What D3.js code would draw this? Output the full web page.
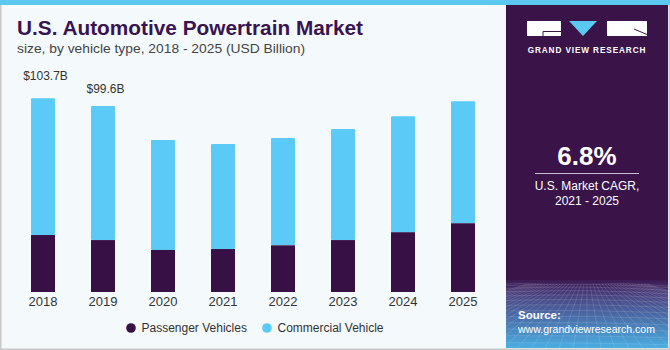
<!DOCTYPE html>
<html><head><meta charset="utf-8">
<script src="https://cdn.jsdelivr.net/npm/d3@7"></script>
<style>html,body{margin:0;padding:0;background:#f4f9fc;}svg{display:block;}</style>
</head><body>
<script>
const years = ["2018","2019","2020","2021","2022","2023","2024","2025"];
const passenger = [30.5, 27.8, 22.5, 23.0, 25.0, 27.8, 32.0, 36.8];
const commercial = [73.2, 71.8, 58.9, 56.2, 57.4, 59.5, 62.1, 65.3];
const totalLabels = ["$103.7B", "$99.6B"];
const seriesNames = ["Passenger Vehicles", "Commercial Vehicle"];

const W = 670, H = 350;
const purple = "#371046", blue = "#5bcaf6", panel = "#3a1449";
const svg = d3.select("body").append("svg").attr("width", W).attr("height", H);
const defs = svg.append("defs");

svg.append("rect").attr("width", W).attr("height", H).attr("fill", "#f4f9fc");
svg.append("rect").attr("width", W).attr("height", 5).attr("fill", "#5bc8ef");

// Right panel
svg.append("rect").attr("x", 506).attr("y", 5).attr("width", 162).attr("height", 343).attr("fill", panel);
const grad = defs.append("linearGradient").attr("id", "g1").attr("x1", 0).attr("y1", 0).attr("x2", 0).attr("y2", 1);
grad.append("stop").attr("offset", "0%").attr("stop-color", "#3c1a52");
grad.append("stop").attr("offset", "25%").attr("stop-color", "#4a4584");
grad.append("stop").attr("offset", "100%").attr("stop-color", "#4aaee2");
svg.append("rect").attr("x", 506).attr("y", 280).attr("width", 162).attr("height", 68).attr("fill", "url(#g1)");
defs.append("clipPath").attr("id", "cp").append("rect").attr("x", 506).attr("y", 283).attr("width", 162).attr("height", 65);
const gridG = svg.append("g").attr("clip-path", "url(#cp)").attr("stroke", "#ffffff").attr("stroke-opacity", 0.18).attr("fill", "none").attr("stroke-width", 0.7);
for (let i = 0; i < 14; i++) {
  const yy = 284 + Math.pow(i, 1.45) * 1.6;
  gridG.append("path").attr("d", `M506,${yy} Q587,${yy - 4 + i * 0.3} 668,${yy + 2}`);
}
for (let i = -20; i <= 20; i++) {
  const xb = 587 + i * 14;
  gridG.append("path").attr("d", `M${587 + i * 3},284 Q${587 + i * 7},310 ${xb},348`);
}

// Logo
const logo = svg.append("g");
logo.append("rect").attr("x", 527).attr("y", 21).attr("width", 34).attr("height", 15).attr("fill", "#fff");
logo.append("path").attr("d", "M543,36 L543,31.5 L561,31.5").attr("stroke", panel).attr("stroke-width", 1).attr("fill", "none");
logo.append("path").attr("d", "M569,21 L597,21 L583,36 Z").attr("fill", "#5bc8ef");
logo.append("rect").attr("x", 607).attr("y", 21).attr("width", 40).attr("height", 15).attr("fill", "#fff");
logo.append("path").attr("d", "M634,29 L647,34.5").attr("stroke", panel).attr("stroke-width", 1);
logo.append("text").attr("x", 587).attr("y", 53).attr("text-anchor", "middle")
  .attr("font-family", "Liberation Sans, Arial, sans-serif").attr("font-weight", "bold").attr("font-size", 8.2)
  .attr("letter-spacing", 0.9).attr("fill", "#fff").text("GRAND VIEW RESEARCH");

// CAGR
svg.append("text").attr("x", 587).attr("y", 165).attr("text-anchor", "middle")
  .attr("font-family", "Liberation Sans, Arial, sans-serif").attr("font-weight", "bold").attr("font-size", 26)
  .attr("fill", "#fff").text("6.8%");
svg.append("line").attr("x1", 535).attr("x2", 639).attr("y1", 173.5).attr("y2", 173.5).attr("stroke", "#c9bcd6").attr("stroke-width", 1);
svg.append("text").attr("x", 587).attr("y", 190).attr("text-anchor", "middle")
  .attr("font-family", "Liberation Sans, Arial, sans-serif").attr("font-size", 12).attr("fill", "#fff").text("U.S. Market CAGR,");
svg.append("text").attr("x", 587).attr("y", 204.5).attr("text-anchor", "middle")
  .attr("font-family", "Liberation Sans, Arial, sans-serif").attr("font-size", 12).attr("fill", "#fff").text("2021 - 2025");

// Source
svg.append("text").attr("x", 518).attr("y", 319).attr("font-family", "Liberation Sans, Arial, sans-serif")
  .attr("font-weight", "bold").attr("font-size", 11.5).attr("fill", "#fff").text("Source:");
svg.append("text").attr("x", 518).attr("y", 332.5).attr("font-family", "Liberation Sans, Arial, sans-serif")
  .attr("font-size", 11.5).attr("fill", "#fff").attr("textLength", 137).attr("lengthAdjust", "spacingAndGlyphs").text("www.grandviewresearch.com");

// Title
svg.append("text").attr("x", 17).attr("y", 35).attr("font-family", "Liberation Sans, Arial, sans-serif")
  .attr("font-weight", "bold").attr("font-size", 19.5).attr("fill", "#3a1450")
  .attr("textLength", 346).attr("lengthAdjust", "spacingAndGlyphs").text("U.S. Automotive Powertrain Market");
svg.append("text").attr("x", 17).attr("y", 53).attr("font-family", "Liberation Sans, Arial, sans-serif")
  .attr("font-size", 13).attr("fill", "#444")
  .attr("textLength", 288).attr("lengthAdjust", "spacingAndGlyphs").text("size, by vehicle type, 2018 - 2025 (USD Billion)");

// Scales
const x = d3.scaleBand().domain(years).range([13, 493]).paddingInner(0.6).paddingOuter(0.3);
const y = d3.scaleLinear().domain([0, 110]).range([292, 292 - 110 * 1.868]);

const data = years.map((yr, i) => ({ year: yr, p: passenger[i], c: commercial[i] }));
const bars = svg.append("g");
bars.selectAll(".c").data(data).join("rect")
  .attr("x", d => x(d.year)).attr("width", x.bandwidth())
  .attr("y", d => y(d.p + d.c)).attr("height", d => y(d.p) - y(d.p + d.c))
  .attr("fill", blue).attr("rx", 1);
bars.selectAll(".p").data(data).join("rect")
  .attr("x", d => x(d.year)).attr("width", x.bandwidth())
  .attr("y", d => y(d.p)).attr("height", d => y(0) - y(d.p))
  .attr("fill", purple);

// Total labels
const labelGap = [18, 12.5];
totalLabels.forEach((t, i) => {
  svg.append("text").attr("x", x(years[i]) + x.bandwidth() / 2 + 2.5)
    .attr("y", y(passenger[i] + commercial[i]) - labelGap[i])
    .attr("text-anchor", "middle").attr("font-family", "Liberation Sans, Arial, sans-serif")
    .attr("font-size", 12).attr("fill", "#333").text(t);
});

// X axis
const xAxis = svg.append("g").attr("transform", "translate(0,292)")
  .call(d3.axisBottom(x).tickSize(0).tickPadding(5));
xAxis.select(".domain").remove();
xAxis.selectAll("text").attr("font-family", "Liberation Sans, Arial, sans-serif").attr("font-size", 13).attr("fill", "#333");

// Legend
const legend = svg.append("g");
const legItems = [{ name: seriesNames[0], color: purple, cx: 131 }, { name: seriesNames[1], color: blue, cx: 267 }];
legItems.forEach(it => {
  legend.append("circle").attr("cx", it.cx).attr("cy", 328).attr("r", 4.8).attr("fill", it.color);
  legend.append("text").attr("x", it.cx + 10.5).attr("y", 332).attr("font-family", "Liberation Sans, Arial, sans-serif")
    .attr("font-size", 12).attr("fill", "#333").text(it.name);
});

// Frame
svg.append("path").attr("d", `M0.75,5 L0.75,349.25 L669.25,349.25 L669.25,5`).attr("fill", "none").attr("stroke", "#c8c8c8").attr("stroke-width", 1.5);
</script>
</body></html>
